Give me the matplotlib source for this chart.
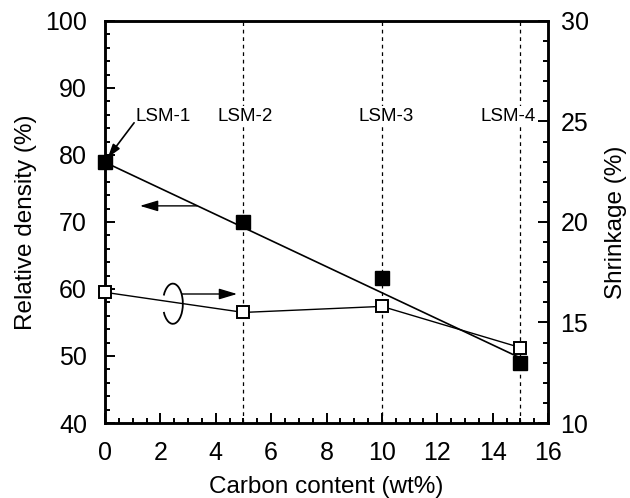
import matplotlib
matplotlib.use("Agg")
import matplotlib.pyplot as plt
from matplotlib.patches import Arc
from matplotlib.ticker import MultipleLocator

plt.rcParams['font.family'] = ['Liberation Sans', 'DejaVu Sans']

# Data
carbon = [0, 5, 10, 15]
density = [79.0, 70.0, 61.6, 49.0]
shrinkage = [16.5, 15.5, 15.8, 13.75]
fit_x = [0, 15]
fit_y = [78.9, 49.7]
labels = ['LSM-1', 'LSM-2', 'LSM-3', 'LSM-4']
label_x = [2.1, 5.05, 10.15, 14.55]
label_y = 85.8

fig = plt.figure(figsize=(6.3, 4.98), dpi=100)
ax = fig.add_axes([0.1667, 0.1506, 0.7033, 0.8074])
ax2 = ax.twinx()

ax.set_xlim(0, 16)
ax.set_ylim(40, 100)
ax2.set_ylim(10, 30)

# dashed vertical guides
for xv in carbon[1:]:
    ax.axvline(xv, color='black', lw=0.9, ls=(0, (3, 3)), zorder=1)

# density
ax.plot(fit_x, fit_y, color='black', lw=1.2, zorder=3)
ax.plot(carbon, density, ls='none', marker='s', ms=9.5, color='black', zorder=4, clip_on=False)

# shrinkage
ax2.plot(carbon, shrinkage, color='black', lw=1.0, marker='s', ms=9, mfc='white',
         mec='black', mew=1.4, zorder=4, clip_on=False)

# labels
for lab, lx in zip(labels, label_x):
    ax.text(lx, label_y, lab, ha='center', va='center', fontsize=13.5, zorder=5,
            bbox=dict(facecolor='white', edgecolor='none', pad=1.5))

ax.annotate('', xy=(0.1, 79.6), xytext=(1.05, 84.8),
            arrowprops=dict(arrowstyle='-|>,head_length=0.8,head_width=0.25',
                            color='black', lw=1.2, shrinkA=0, shrinkB=0), zorder=6)

# direction arrows
ax.annotate('', xy=(1.26, 72.4), xytext=(3.32, 72.4),
            arrowprops=dict(arrowstyle='-|>,head_length=1.1,head_width=0.33',
                            color='black', lw=1.0, shrinkA=0, shrinkB=0))
ax.annotate('', xy=(4.77, 59.25), xytext=(2.78, 59.25),
            arrowprops=dict(arrowstyle='-|>,head_length=1.1,head_width=0.33',
                            color='black', lw=1.0, shrinkA=0, shrinkB=0))
ax.add_patch(Arc((2.45, 57.8), 0.72, 6.0, theta1=-105, theta2=105, color='black', lw=1.3))

# axes styling
for a in (ax, ax2):
    for s in a.spines.values():
        s.set_linewidth(1.8)

ax.xaxis.set_major_locator(MultipleLocator(2))
ax.xaxis.set_minor_locator(MultipleLocator(0.5))
ax.yaxis.set_major_locator(MultipleLocator(10))
ax.yaxis.set_minor_locator(MultipleLocator(2))
ax2.yaxis.set_major_locator(MultipleLocator(5))
ax2.yaxis.set_minor_locator(MultipleLocator(1))

ax.tick_params(which='both', direction='in', top=False, right=False, labelsize=18, width=1.4)
ax.tick_params(which='major', length=7.5)
ax.tick_params(which='minor', length=3.8)
ax.tick_params(axis='x', which='major', pad=13)
ax.tick_params(axis='y', which='major', pad=13)
ax2.tick_params(which='both', direction='in', labelsize=18, width=1.4)
ax2.tick_params(which='major', length=7.5, pad=9)
ax2.tick_params(which='minor', length=3.8)

ax.set_xlabel('Carbon content (wt%)', fontsize=17.5, labelpad=8)
ax.set_ylabel('Relative density (%)', fontsize=17.5, labelpad=6)
ax2.set_ylabel('Shrinkage (%)', fontsize=17.5, labelpad=12)

fig.savefig('out.png', dpi=100)
